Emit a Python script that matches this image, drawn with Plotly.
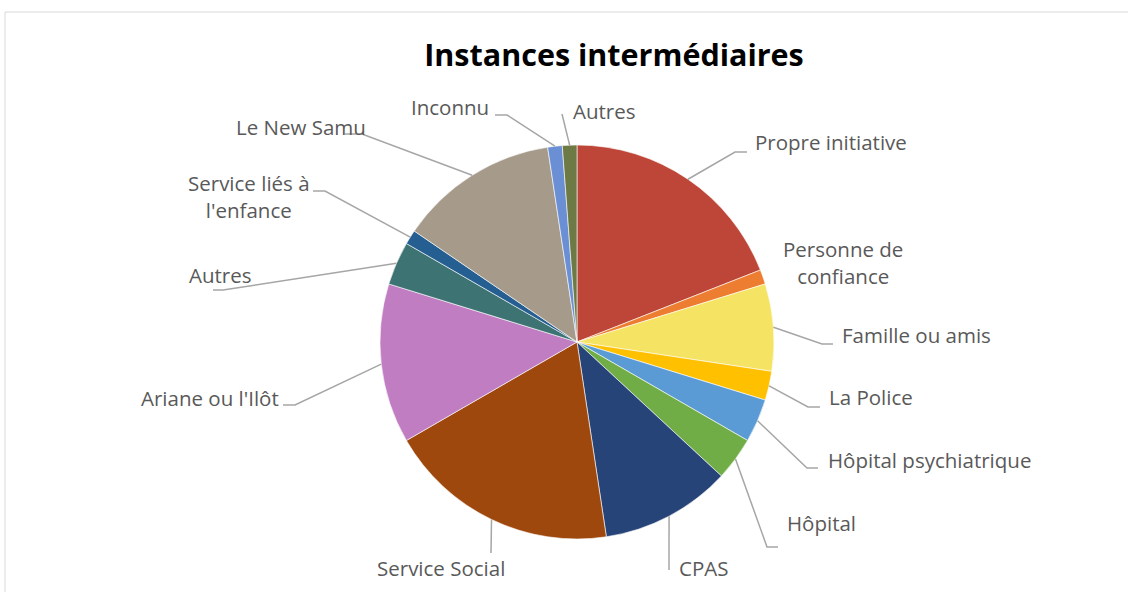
import math
import plotly.graph_objects as go

# ---- data ----
categories = ["Propre initiative", "Personne de confiance", "Famille ou amis", "La Police",
              "Hôpital psychiatrique", "Hôpital", "CPAS", "Service Social",
              "Ariane ou l'Ilôt", "Autres", "Service liés à l'enfance", "Le New Samu",
              "Inconnu", "Autres"]
values = [16, 1, 6, 2, 3, 3, 9, 16, 11, 3, 1, 11, 1, 1]
label_texts = ["Propre initiative", "Personne de<br>confiance", "Famille ou amis", "La Police",
               "Hôpital psychiatrique", "Hôpital", "CPAS", "Service Social",
               "Ariane ou l'Ilôt", "Autres", "Service liés à<br>l'enfance", "Le New Samu",
               "Inconnu", "Autres"]
colors = ["#BE4638", "#ED7D31", "#F5E364", "#FFC000", "#5B9BD5", "#70AD47", "#264478",
          "#9E480E", "#C17DC2", "#3D7373", "#255E91", "#A69B8A", "#6A8FD4", "#6E7A45"]

# ---- layout (pixels) ----
W, H = 1128, 592
CX, CY, R = 577, 342, 197
# (elbow_x, elbow_y, end_x, end_y, text_x, text_y, xanchor) ; None = no leader line
label_layout = [
    (735, 152, 747, 152, 753, 142, "left"),
    None,
    (822, 344, 833, 344, 840, 335, "left"),
    (808, 407, 820, 407, 827, 397, "left"),
    (807, 468, 818, 468, 826, 460, "left"),
    (767, 547, 778, 547, 785, 523, "left"),
    (669, 570, 669, 570, 677, 568, "left"),
    (491, 553, 491, 553, 441, 568, "center"),
    (295, 405, 283, 405, 281, 398, "right"),
    (223, 290, 213, 290, 254, 275, "right"),
    (325, 191, 313, 191, 249, 196, "center"),
    (362, 134, 345, 134, 368, 127, "right"),
    (507, 115, 495, 115, 491, 107, "right"),
    (562, 114, 562, 114, 571, 111, "left"),
]
free_labels = {1: (843, 262, "center")}


def px(x):
    return x / W


def py(y):
    return 1 - y / H


fig = go.Figure()
fig.add_trace(go.Pie(
    labels=[str(i) for i in range(len(values))],
    values=values,
    hovertext=categories,
    hoverinfo="text+value+percent",
    sort=False,
    direction="clockwise",
    rotation=0,
    textinfo="none",
    marker=dict(colors=colors, line=dict(color="white", width=0.6)),
    domain=dict(x=[px(CX - R), px(CX + R)], y=[py(CY + R), py(CY - R)]),
    showlegend=False,
))

total = sum(values)
shapes = []
annotations = []
cum = 0
for i, v in enumerate(values):
    mid = (cum + v / 2) / total * 2 * math.pi
    cum += v
    sx = CX + R * math.sin(mid)
    sy = CY - R * math.cos(mid)
    lay = label_layout[i]
    if lay is None:
        tx, ty, xa = free_labels[i]
    else:
        ex, ey, endx, endy, tx, ty, xa = lay
        path = f"M {px(sx)} {py(sy)} L {px(ex)} {py(ey)} L {px(endx)} {py(endy)}"
        shapes.append(dict(type="path", xref="paper", yref="paper", path=path,
                           line=dict(color="#A6A6A6", width=1.5)))
    annotations.append(dict(x=px(tx), y=py(ty), xref="paper", yref="paper",
                            text=label_texts[i], showarrow=False,
                            xanchor=xa, yanchor="middle", align="center",
                            font=dict(family="Open Sans", size=20.5, color="#595959")))

# chart area border
shapes.append(dict(type="rect", xref="paper", yref="paper",
                   x0=px(5), y0=py(H + 10), x1=px(W + 10), y1=py(12),
                   line=dict(color="#D9D9D9", width=1)))

fig.update_layout(
    width=W, height=H,
    margin=dict(l=0, r=0, t=0, b=0),
    paper_bgcolor="white",
    plot_bgcolor="white",
    title=dict(text="<b>Instances intermédiaires</b>", x=px(614), y=py(55),
               xanchor="center", yanchor="middle",
               font=dict(family="Open Sans", size=30.5, color="black")),
    shapes=shapes,
    annotations=annotations,
)

fig.write_html("out.html", config={"displayModeBar": False},
               post_script="document.body.style.margin='0px';")
